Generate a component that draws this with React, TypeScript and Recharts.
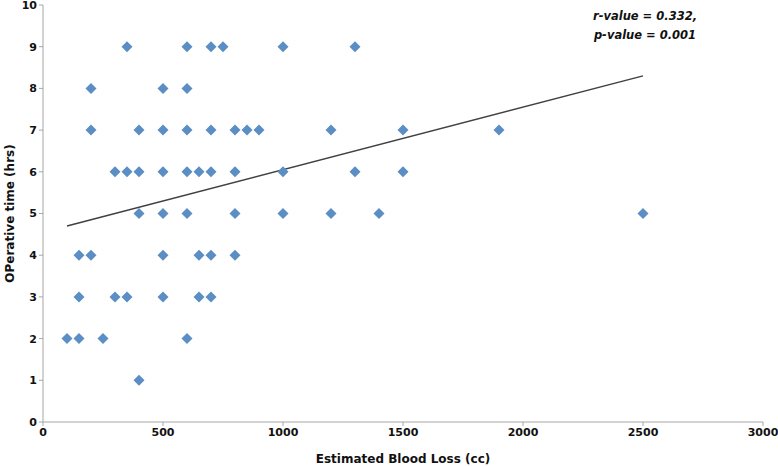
import {
  ReferenceLine,
  Scatter,
  ScatterChart,
  XAxis,
  YAxis,
} from "recharts";

// blood loss (cc) vs operative time (hrs), one entry per patient
const bloodLoss = [
  350, 600, 700, 750, 1000, 1300,
  200, 500, 600,
  200, 400, 500, 600, 700, 800, 850, 900, 1200, 1500, 1900,
  300, 350, 400, 500, 600, 650, 700, 800, 1000, 1300, 1500,
  400, 500, 600, 800, 1000, 1200, 1400, 2500,
  150, 200, 500, 650, 700, 800,
  150, 300, 350, 500, 650, 700,
  100, 150, 250, 600,
  400,
];
const opTime = [
  9, 9, 9, 9, 9, 9,
  8, 8, 8,
  7, 7, 7, 7, 7, 7, 7, 7, 7, 7, 7,
  6, 6, 6, 6, 6, 6, 6, 6, 6, 6, 6,
  5, 5, 5, 5, 5, 5, 5, 5,
  4, 4, 4, 4, 4, 4,
  3, 3, 3, 3, 3, 3,
  2, 2, 2, 2,
  1,
];

const trendX = [100, 2500];
const trendY = [4.7, 8.3];

const xTicks = [0, 500, 1000, 1500, 2000, 2500, 3000];
const yTicks = [0, 1, 2, 3, 4, 5, 6, 7, 8, 9, 10];

const font = "'DejaVu Sans', sans-serif";
const axisColor = "#a6a6a6";

function Diamond(props: any) {
  const { cx, cy } = props;
  const r = 5.5;
  return (
    <polygon
      points={`${cx},${cy - r} ${cx + r},${cy} ${cx},${cy + r} ${cx - r},${cy}`}
      fill="#5b8ec4"
    />
  );
}

export default function App() {
  const data = bloodLoss.map((x, i) => ({ x, y: opTime[i] }));

  return (
    <div style={{ position: "absolute", left: 0, top: 0, width: 778, height: 466, background: "#fff" }}>
      <ScatterChart width={778} height={466} margin={{ top: 5, right: 15, left: 0, bottom: 0 }}>
        <XAxis
          type="number"
          dataKey="x"
          domain={[0, 3000]}
          ticks={xTicks}
          interval={0}
          stroke={axisColor}
          tickSize={4}
          height={44}
          tick={{ fill: "#111", fontSize: 11, fontWeight: "bold", fontFamily: font }}
          label={{
            value: "Estimated Blood Loss (cc)",
            position: "insideBottom",
            offset: 3,
            style: { fill: "#111", fontSize: 12, fontWeight: "bold", fontFamily: font },
          }}
        />
        <YAxis
          type="number"
          dataKey="y"
          domain={[0, 10]}
          ticks={yTicks}
          interval={0}
          stroke={axisColor}
          tickSize={4}
          width={43}
          tick={{ fill: "#111", fontSize: 11, fontWeight: "bold", fontFamily: font }}
          label={{
            value: "OPerative time (hrs)",
            angle: -90,
            position: "insideLeft",
            offset: 10,
            style: { textAnchor: "middle", fill: "#111", fontSize: 12, fontWeight: "bold", fontFamily: font },
          }}
        />
        <ReferenceLine
          segment={[
            { x: trendX[0], y: trendY[0] },
            { x: trendX[1], y: trendY[1] },
          ]}
          stroke="#404040"
          strokeWidth={1.5}
          ifOverflow="visible"
        />
        <Scatter data={data} shape={Diamond} isAnimationActive={false} />
      </ScatterChart>
      <div
        style={{
          position: "absolute",
          left: 575,
          top: 7,
          width: 140,
          textAlign: "center",
          fontFamily: font,
          fontSize: 11.5,
          fontWeight: "bold",
          fontStyle: "italic",
          lineHeight: "19px",
          color: "#111",
        }}
      >
        r-value = 0.332,
        <br />
        p-value = 0.001
      </div>
    </div>
  );
}
